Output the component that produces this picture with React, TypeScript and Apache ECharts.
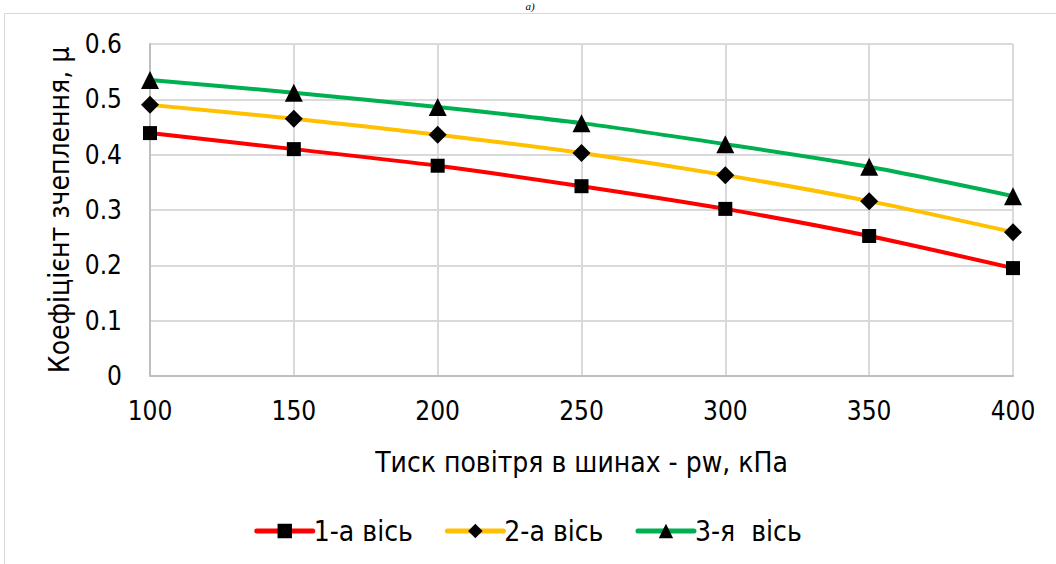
import React, { useEffect, useRef } from "react";
import * as echarts from "echarts";

const categories = ["100", "150", "200", "250", "300", "350", "400"];
const axis1 = [0.439, 0.41, 0.38, 0.343, 0.302, 0.253, 0.195];
const axis2 = [0.49, 0.465, 0.436, 0.403, 0.363, 0.316, 0.26];
const axis3 = [0.535, 0.512, 0.486, 0.457, 0.419, 0.378, 0.325];
const seriesNames = ["1-а вісь", "2-а вісь", "3-я  вісь"];
const yTicks = [0, 0.1, 0.2, 0.3, 0.4, 0.5, 0.6];

const FONT = "'DejaVu Sans Condensed', 'Liberation Sans Narrow', 'DejaVu Sans', sans-serif";

export default function App() {
  const ref = useRef<HTMLDivElement>(null);
  useEffect(() => {
    document.body.style.margin = "0";
    const chart = echarts.init(ref.current!, undefined, { renderer: "svg" });
    const mk = (name: string, data: number[], color: string, symbol: string, size: number) => ({
      name,
      type: "line",
      data,
      smooth: 0.25,
      symbol,
      symbolSize: size,
      lineStyle: { color, width: 4 },
      itemStyle: { color: "#000", borderWidth: 0 },
      emphasis: { disabled: true },
    });
    chart.setOption({
      animation: false,
      backgroundColor: "#fff",
      textStyle: { fontFamily: FONT },
      graphic: [
        {
          type: "rect",
          shape: { x: 4.5, y: 13.5, width: 1100, height: 600 },
          style: { fill: "none", stroke: "#d9d9d9", lineWidth: 1 },
          silent: true,
        },
        {
          type: "text",
          x: 530,
          y: 0,
          style: { text: "a)", font: "italic 11px 'Liberation Serif', serif", fill: "#000", textAlign: "center" },
        },
      ],
      grid: { left: 150, right: 43, top: 44, bottom: 188 },
      xAxis: {
        type: "category",
        data: categories,
        boundaryGap: false,
        name: "Тиск повітря в шинах - pw, кПа",
        nameLocation: "middle",
        nameGap: 72,
        nameTextStyle: { fontSize: 28, color: "#000", fontFamily: FONT },
        axisLine: { lineStyle: { color: "#bfbfbf", width: 2 } },
        axisTick: { show: false },
        axisLabel: { fontSize: 26, color: "#000", margin: 22, fontFamily: FONT },
        splitLine: { show: true, lineStyle: { color: "#d9d9d9", width: 2 } },
      },
      yAxis: {
        type: "value",
        min: 0,
        max: 0.6,
        interval: 0.1,
        name: "Коефіцієнт зчеплення, μ",
        nameLocation: "middle",
        nameGap: 76,
        nameTextStyle: { fontSize: 28, color: "#000", fontFamily: FONT },
        axisLine: { show: true, lineStyle: { color: "#bfbfbf", width: 2 } },
        axisTick: { show: false },
        axisLabel: {
          fontSize: 26,
          color: "#000",
          margin: 28,
          fontFamily: FONT,
          formatter: (v: number) => {
            const t = yTicks.find((x) => Math.abs(x - v) < 1e-9);
            return t === undefined ? "" : String(t);
          },
        },
        splitLine: { lineStyle: { color: "#d9d9d9", width: 2 } },
      },
      legend: {
        bottom: 14,
        left: "center",
        itemWidth: 56,
        itemHeight: 18,
        itemGap: 32,
        lineStyle: { width: 5, cap: "round" },
        textStyle: { fontSize: 28, color: "#000", fontFamily: FONT, padding: [0, 0, 0, -4] },
        data: seriesNames,
      },
      series: [
        mk(seriesNames[0], axis1, "#ff0000", "rect", 14),
        mk(seriesNames[1], axis2, "#ffc000", "diamond", 18),
        mk(seriesNames[2], axis3, "#00b050", "triangle", 18),
      ],
    });
    return () => chart.dispose();
  }, []);
  return <div ref={ref} style={{ width: 1056, height: 564 }} />;
}
